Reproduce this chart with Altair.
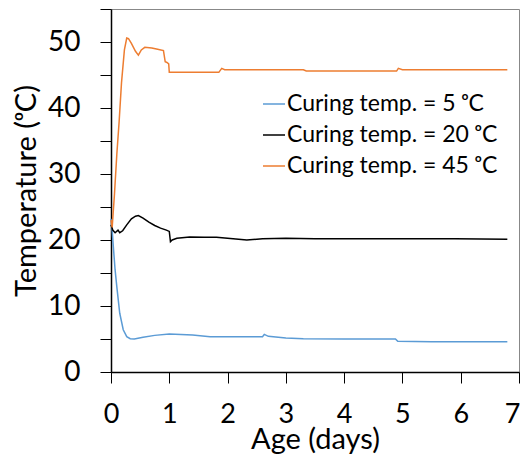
import altair as alt
import pandas as pd

# Curing temp = 5 C
days_5 = [0, 0.02, 0.04, 0.07, 0.10, 0.15, 0.21, 0.27, 0.33, 0.40, 0.55, 0.75, 1.0, 1.2, 1.4, 1.7, 2.0, 2.6, 2.63, 2.7, 3.0, 3.3, 4.0, 4.88, 4.92, 5.5, 6.8]
vals_5 = [23.2, 21.5, 19.0, 15.5, 12.9, 8.9, 6.4, 5.35, 5.05, 5.0, 5.25, 5.55, 5.75, 5.7, 5.6, 5.35, 5.35, 5.35, 5.7, 5.4, 5.15, 5.05, 5.0, 5.0, 4.65, 4.6, 4.6]

# Curing temp = 20 C
days_20 = [0, 0.03, 0.07, 0.12, 0.15, 0.2, 0.27, 0.35, 0.42, 0.47, 0.55, 0.65, 0.75, 0.85, 0.95, 1.0, 1.02, 1.05, 1.13, 1.35, 1.6, 1.81, 2.0, 2.33, 2.6, 3.0, 3.5, 4.0, 4.5, 5.0, 5.5, 5.9, 6.8]
vals_20 = [22.3, 21.5, 21.1, 21.5, 21.1, 21.4, 22.3, 23.2, 23.6, 23.7, 23.3, 22.7, 22.2, 21.8, 21.5, 21.3, 19.75, 20.0, 20.25, 20.45, 20.4, 20.4, 20.25, 20.0, 20.2, 20.25, 20.2, 20.2, 20.2, 20.2, 20.2, 20.2, 20.1]

# Curing temp = 45 C
days_45 = [0, 0.02, 0.06, 0.10, 0.14, 0.18, 0.23, 0.27, 0.30, 0.35, 0.42, 0.47, 0.52, 0.58, 0.7, 0.8, 0.9, 0.93, 0.96, 0.99, 1.0, 1.85, 1.9, 1.95, 3.3, 3.35, 4.9, 4.93, 5.0, 6.8]
vals_45 = [23.0, 21.9, 27.0, 33.0, 38.0, 43.8, 48.8, 50.6, 50.5, 49.8, 48.6, 48.0, 48.8, 49.2, 49.1, 48.9, 48.7, 47.0, 46.9, 46.7, 45.4, 45.4, 46.0, 45.8, 45.8, 45.6, 45.6, 46.0, 45.8, 45.8]

names = ["Curing temp. = 5 ᵒC", "Curing temp. = 20 ᵒC", "Curing temp. = 45 ᵒC"]
colors = ["#5B9BD5", "#000000", "#ED7D31"]
x_ticks = [0, 1, 2, 3, 4, 5, 6, 7]
y_ticks = [0, 5, 10, 15, 20, 25, 30, 35, 40, 45, 50, 55]

rows = []
for name, ds, vs in zip(names, [days_5, days_20, days_45], [vals_5, vals_20, vals_45]):
    for d, v in zip(ds, vs):
        rows.append({"series": name, "day": d, "temp": v})
df = pd.DataFrame(rows)

FONT = "Lato"

chart = alt.Chart(df).mark_line(strokeWidth=1.5).encode(
    x=alt.X("day:Q", scale=alt.Scale(domain=[0, 7], nice=False, zero=False),
            axis=alt.Axis(values=x_ticks, title="Age (days)", format="d",
                          labelFontSize=27, labelPadding=18, tickSize=11,
                          labelAlign=alt.condition("datum.value == 7", alt.value("right"), alt.value("center")),
                          labelOffset=alt.condition("datum.value == 7", alt.value(1), alt.value(0)),
                          titleFontSize=29, titleFontWeight="normal",
                          titleY=76, titleBaseline="alphabetic")),
    y=alt.Y("temp:Q", scale=alt.Scale(domain=[0, 55], nice=False),
            axis=alt.Axis(values=y_ticks, title="Temperature (ᵒC)",
                          labelExpr="datum.value % 10 == 0 ? datum.label : ''",
                          labelFontSize=28, labelPadding=20, tickSize=11,
                          titleFontSize=29, titleFontWeight="normal",
                          titleX=-85, titleY=181.5, titleAngle=-90,
                          titleBaseline="middle", titleAlign="center")),
    color=alt.Color("series:N", scale=alt.Scale(domain=names, range=colors),
                    sort=names,
                    legend=alt.Legend(title=None, orient="none", legendX=151, legendY=83,
                                      symbolType="stroke", symbolSize=484,
                                      symbolStrokeWidth=1.5, labelFontSize=23,
                                      labelOffset=1, rowPadding=7, labelLimit=400,
                                      labelFont=FONT, labelColor="black")),
).properties(
    width=408, height=363,
    autosize=alt.AutoSizeParams(type="none"),
    padding={"left": 103, "top": 1, "right": 1, "bottom": 84},
).configure_axis(
    grid=False, domainColor="black", domainWidth=1.5, tickColor="black",
    tickWidth=1, labelColor="black", titleColor="black",
    labelFont=FONT, titleFont=FONT,
).configure_view(
    stroke="#888888", strokeWidth=1,
)

chart.save("out.html", embed_options={"renderer": "svg", "actions": False})
